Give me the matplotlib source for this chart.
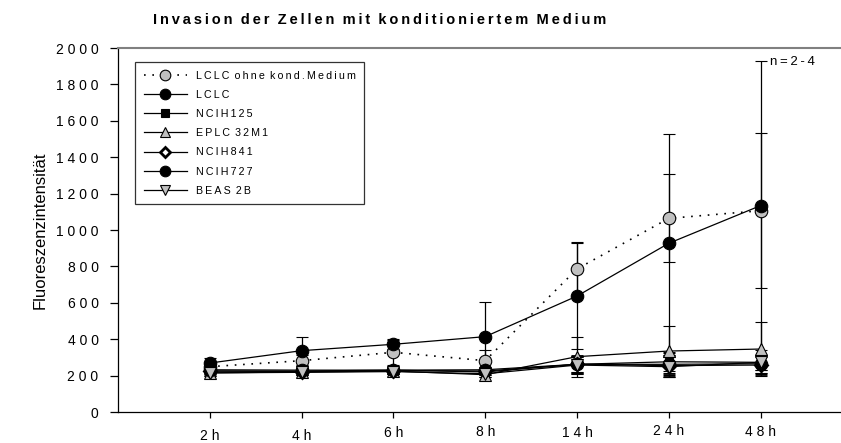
import matplotlib
matplotlib.use('Agg')
import matplotlib.pyplot as plt
import matplotlib.transforms as mtrans
from matplotlib.lines import Line2D

plt.rcParams['font.family'] = ['Liberation Sans', 'DejaVu Sans']

# ---- data ----
categories = ['2h', '4h', '6h', '8h', '14h', '24h', '48h']
series_names = ['LCLC ohne kond.Medium', 'LCLC', 'NCIH125', 'EPLC 32M1',
                'NCIH841', 'NCIH727', 'BEAS 2B']
lclc_ohne = [249, 282, 328, 282, 786, 1064, 1106]
lclc_ohne_err = [20, 30, 70, 60, 150, 241, 426]
lclc = [269, 337, 372, 414, 637, 927, 1134]
lclc_err = [26, 77, 28, 192, 290, 600, 796]
ncih125 = [225, 225, 230, 220, 262, 276, 273]
ncih125_err = [15, 15, 20, 15, 40, 50, 40]
eplc = [215, 220, 225, 205, 304, 335, 346]
eplc_err = [15, 15, 15, 15, 110, 140, 147]
ncih841 = [225, 222, 228, 225, 262, 255, 258]
ncih841_err = [15, 15, 15, 15, 45, 50, 50]
ncih727 = [232, 230, 230, 232, 262, 262, 265]
ncih727_err = [15, 15, 15, 15, 45, 50, 50]
beas = [215, 218, 222, 210, 258, 249, 273]
beas_err = [15, 15, 15, 15, 50, 55, 40]
yticks = [0, 200, 400, 600, 800, 1000, 1200, 1400, 1600, 1800, 2000]
label_offsets_px = [4, 3.5, 1, 0, 1, -1, 0]  # vertical jitter of x labels


def sp(s, sep=' ', wsep='   '):
    return wsep.join(sep.join(w) for w in s.split(' '))


W, H = 841, 443
fig = plt.figure(figsize=(W / 100, H / 100), dpi=100)
ax = fig.add_axes([118 / W, 1 - 412 / H, 1 - 118 / W, (412 - 48) / H])

x = list(range(1, len(categories) + 1))
gray = '#c0c0c0'
dotted = (0, (1, 4))
styles = [
    dict(data=lclc_ohne, err=lclc_ohne_err, ls=dotted, lw=1.2, marker='o', mfc=gray, ms=9),
    dict(data=lclc, err=lclc_err, ls='-', marker='o', mfc='black', ms=9),
    dict(data=ncih125, err=ncih125_err, ls='-', marker='s', mfc='black', ms=6),
    dict(data=eplc, err=eplc_err, ls='-', marker='^', mfc=gray, ms=8),
    dict(data=ncih841, err=ncih841_err, ls='-', marker='D', mfc='white', ms=6, mew=2),
    dict(data=ncih727, err=ncih727_err, ls='-', marker='o', mfc='black', ms=9),
    dict(data=beas, err=beas_err, ls='-', marker='v', mfc=gray, ms=8),
]
handles = []
for name, st in zip(series_names, styles):
    ax.errorbar(x, st['data'], yerr=st['err'], color='black', ls=st['ls'],
                lw=st.get('lw', 0.9), marker=st['marker'], mfc=st['mfc'], mec='black',
                mew=st.get('mew', 0.8), ms=st['ms'], ecolor='black',
                elinewidth=0.9, capsize=4.3, capthick=0.9)
    handles.append(Line2D([], [], color='black', ls=st['ls'], lw=st.get('lw', 0.9),
                          marker=st['marker'], mfc=st['mfc'], mec='black',
                          mew=st.get('mew', 0.8), ms=st['ms'] * 0.85,
                          label=sp(name, sep='\u2009', wsep='\u2009 ')))

ax.set_xlim(0, (W - 118) / 91.8)
ax.set_ylim(0, 2000)
ax.set_yticks(yticks)
ax.set_yticklabels([sp(str(v)) for v in yticks], fontsize=10)
ax.set_xticks(x)
ax.set_xticklabels([sp(c, sep=' ') for c in categories], fontsize=10)
ax.tick_params(axis='y', direction='out', length=6, width=0.9, pad=8)
ax.tick_params(axis='x', direction='out', length=4, width=0.9, pad=5.5)
for lbl, off in zip(ax.get_xticklabels(), label_offsets_px):
    lbl.set_transform(lbl.get_transform() +
                      mtrans.ScaledTranslation(0, -off / 100, fig.dpi_scale_trans))

ax.spines['right'].set_visible(False)
ax.spines['top'].set_color('#808080')
ax.spines['top'].set_linewidth(1.5)
ax.spines['left'].set_linewidth(0.9)
ax.spines['bottom'].set_linewidth(0.9)

ax.set_ylabel('Fluoreszenzintensität', fontsize=12, labelpad=6)
fig.text(153 / W, 1 - 20 / H, sp('Invasion der Zellen mit konditioniertem Medium',
                                  sep='\u2009', wsep='  '),
         fontsize=10.5, fontweight='bold', ha='left', va='center')
fig.text(770 / W, 1 - 62 / H, sp('n=2-4', sep='\u2009'), fontsize=9.5,
         ha='left', va='center')

leg = ax.legend(handles=handles, loc='upper left',
                bbox_to_anchor=(135 / W, 1 - 62 / H), bbox_transform=fig.transFigure,
                frameon=True, fancybox=False, edgecolor='black', fontsize=7.7,
                handlelength=4.1, handletextpad=0.8, labelspacing=0.86,
                borderpad=0.8, borderaxespad=0)
leg.get_frame().set_linewidth(0.9)

fig.savefig('out.png', dpi=100)
